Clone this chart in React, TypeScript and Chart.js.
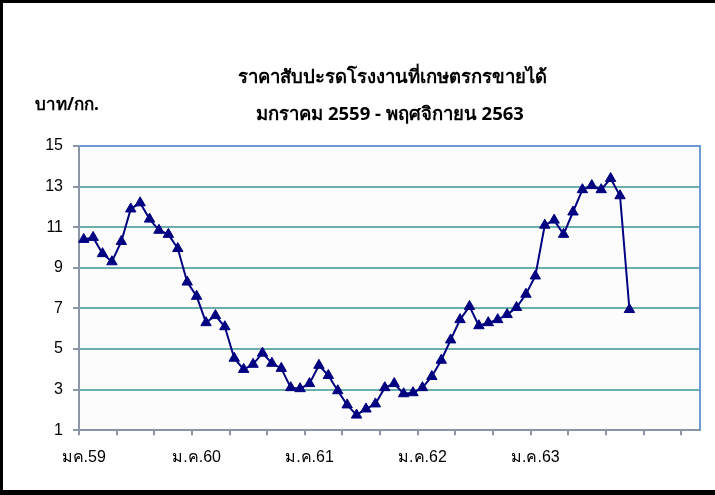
import React, { useEffect, useRef } from "react";
import { Chart, registerables } from "chart.js";

Chart.register(...registerables);

const monthAbbr = ["ม.ค.", "ก.พ.", "มี.ค.", "เม.ย.", "พ.ค.", "มิ.ย.", "ก.ค.", "ส.ค.", "ก.ย.", "ต.ค.", "พ.ย.", "ธ.ค."];
const years = ["59", "60", "61", "62", "63", "64"];
const categoryCount = 66;

const tickLabels: Record<number, string> = {
  0: "มค.59",
  12: "ม.ค.60",
  24: "ม.ค.61",
  36: "ม.ค.62",
  48: "ม.ค.63",
};

const prices = [
  10.4, 10.5, 9.7, 9.3, 10.3, 11.9, 12.2, 11.4, 10.85, 10.65, 9.95, 8.3,
  7.6, 6.3, 6.65, 6.1, 4.55, 4.0, 4.25, 4.8, 4.3, 4.05, 3.1, 3.05,
  3.3, 4.2, 3.7, 2.95, 2.25, 1.75, 2.05, 2.3, 3.1, 3.3, 2.8, 2.85,
  3.1, 3.65, 4.45, 5.45, 6.45, 7.1, 6.15, 6.3, 6.45, 6.7, 7.05, 7.7,
  8.6, 11.1, 11.35, 10.65, 11.75, 12.85, 13.05, 12.85, 13.4, 12.55, 6.95,
];

const titleLine1 = "ราคาสับปะรดโรงงานที่เกษตรกรขายได้";
const titleLine2 = "มกราคม 2559 - พฤศจิกายน 2563";
const unitLabel = "บาท/กก.";

const categories: string[] = [];
for (let i = 0; i < categoryCount; i++) {
  categories.push(monthAbbr[i % 12] + years[Math.floor(i / 12)]);
}

const W = 715;
const H = 495;
const THAI_FONT = "Tahoma, 'Noto Sans', 'DejaVu Sans', sans-serif";
const NUM_FONT = "'Liberation Sans', Arial, sans-serif";

const decor = {
  id: "decor",
  beforeDraw(chart: any) {
    const { ctx, chartArea } = chart;
    ctx.save();
    ctx.fillStyle = "#ffffff";
    ctx.fillRect(0, 0, W, H);
    ctx.fillStyle = "#fcfcfc";
    ctx.fillRect(chartArea.left, chartArea.top, chartArea.right - chartArea.left, chartArea.bottom - chartArea.top);
    ctx.restore();
  },
  beforeDatasetsDraw(chart: any) {
    const { ctx, chartArea } = chart;
    ctx.save();
    ctx.strokeStyle = "#6f9bd4";
    ctx.lineWidth = 2;
    ctx.beginPath();
    ctx.moveTo(chartArea.left, chartArea.top);
    ctx.lineTo(chartArea.right, chartArea.top);
    ctx.lineTo(chartArea.right, chartArea.bottom);
    ctx.stroke();
    ctx.restore();
  },
  afterDraw(chart: any) {
    const { ctx } = chart;
    ctx.save();
    ctx.fillStyle = "#000000";
    ctx.fillRect(0, 0, W, 3);
    ctx.fillRect(0, 0, 3, H);
    ctx.fillRect(0, 490, W, 5);
    ctx.textAlign = "center";
    ctx.textBaseline = "middle";
    ctx.font = "bold 18.5px " + THAI_FONT;
    ctx.fillText(titleLine1, 392, 78);
    ctx.fillText(titleLine2, 390, 115);
    ctx.textAlign = "left";
    ctx.font = "bold 17px " + THAI_FONT;
    ctx.fillText(unitLabel, 35, 105);
    ctx.restore();
  },
};

export default function App() {
  const ref = useRef<HTMLCanvasElement | null>(null);

  useEffect(() => {
    document.body.style.margin = "0";
    const canvas = ref.current;
    if (!canvas) return;
    const chart = new Chart(canvas, {
      type: "line",
      data: {
        labels: categories,
        datasets: [
          {
            data: prices,
            borderColor: "#000080",
            backgroundColor: "#000080",
            borderWidth: 2,
            tension: 0,
            pointStyle: "triangle",
            pointRadius: 6,
            pointBorderWidth: 1,
            pointBackgroundColor: "#000080",
            pointBorderColor: "#000080",
          },
        ],
      },
      options: {
        responsive: false,
        animation: false,
        layout: { padding: { top: 146, right: 15, left: 0, bottom: 0 } },
        plugins: {
          legend: { display: false },
          title: { display: false },
          tooltip: { enabled: false },
        },
        scales: {
          x: {
            type: "category",
            offset: true,
            afterFit(scale: any) {
              scale.height = 64.7;
            },
            border: { display: true, color: "#8c95a5", width: 2 },
            grid: {
              offset: true,
              drawOnChartArea: false,
              drawTicks: true,
              tickLength: 5,
              color: (c: any) => (c.index !== undefined && c.index % 4 === 0 ? "#8c95a5" : "rgba(0,0,0,0)"),
              lineWidth: 2,
            },
            ticks: {
              autoSkip: false,
              maxRotation: 0,
              minRotation: 0,
              padding: 13,
              color: "#000000",
              font: { size: 16, family: "'Liberation Sans', Tahoma, 'Noto Sans', sans-serif" },
              callback: (_v: any, i: number) => tickLabels[i] ?? "",
            },
          },
          y: {
            min: 1,
            max: 15,
            afterFit(scale: any) {
              scale.width = 79;
            },
            border: { display: true, color: "#8c95a5", width: 2 },
            grid: {
              drawTicks: true,
              tickLength: 6,
              lineWidth: 2,
              color: (c: any) => {
                const v = c.tick ? c.tick.value : null;
                return v === 1 || v === 15 ? "rgba(0,0,0,0)" : "#6aafac";
              },
              tickColor: "#8c95a5",
            },
            ticks: {
              stepSize: 2,
              padding: 10,
              color: "#000000",
              font: { size: 16, family: NUM_FONT },
            },
          },
        },
      },
      plugins: [decor],
    });
    return () => chart.destroy();
  }, []);

  return (
    <div style={{ width: W, height: H }}>
      <canvas ref={ref} width={W} height={H} style={{ display: "block", width: W, height: H }} />
    </div>
  );
}
